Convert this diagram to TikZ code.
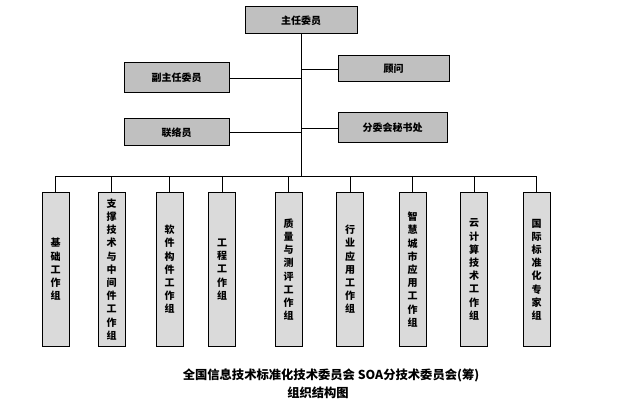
\documentclass[tikz,border=0pt]{standalone}
\usepackage{fontspec}
\newfontfamily\cjk{Noto Sans CJK SC}
\definecolor{topgray}{HTML}{C0C0C0}
\definecolor{grpgray}{HTML}{DADADA}
\begin{document}
\begin{tikzpicture}[x=1pt,y=-1pt,
  topbox/.style={draw, fill=topgray, line width=1pt, inner sep=0pt,
    font=\cjk\bfseries\fontsize{10}{12}\selectfont},
  grpbox/.style={draw, fill=grpgray, line width=1pt, inner sep=0pt,
    minimum width=27pt, minimum height=153pt, align=center,
    font=\cjk\bfseries\fontsize{10}{13.2}\selectfont},
  conn/.style={line width=0.8pt},
  caption/.style={font=\cjk\bfseries\fontsize{12.3}{14}\selectfont, inner sep=0pt}]
\useasboundingbox[fill=white] (0,0) rectangle (632,414);
% top level
\node[topbox, minimum width=112pt, minimum height=27pt] (zr) at (301,20.5) {主任委员};
\node[topbox, minimum width=105pt, minimum height=30pt] (fzr) at (176.5,78) {副主任委员};
\node[topbox, minimum width=111pt, minimum height=26pt] (gw) at (393.5,69) {顾问};
\node[topbox, minimum width=105pt, minimum height=27pt] (lly) at (176.5,132.5) {联络员};
\node[topbox, minimum width=109pt, minimum height=30pt] (msc) at (392.5,128) {分委会秘书处};
\coordinate (bus) at (301,176);
\draw[conn] (zr.south) -- (bus);
\draw[conn] (fzr.east) -- (fzr.east -| bus);
\draw[conn] (gw.west) -- (gw.west -| bus);
\draw[conn] (lly.east) -- (lly.east -| bus);
\draw[conn] (msc.west) -- (msc.west -| bus);
% groups
\node[grpbox] (g1) at (55.5,269.5) {基\\础\\工\\作\\组};
\node[grpbox] (g2) at (111.5,269.5) {支\\撑\\技\\术\\与\\中\\间\\件\\工\\作\\组};
\node[grpbox] (g3) at (169.5,269.5) {软\\件\\构\\件\\工\\作\\组};
\node[grpbox] (g4) at (222,269.5) {工\\程\\工\\作\\组};
\node[grpbox] (g5) at (288.5,269.5) {质\\量\\与\\测\\评\\工\\作\\组};
\node[grpbox] (g6) at (350,269.5) {行\\业\\应\\用\\工\\作\\组};
\node[grpbox] (g7) at (412.5,269.5) {智\\慧\\城\\市\\应\\用\\工\\作\\组};
\node[grpbox] (g8) at (474,269.5) {云\\计\\算\\技\\术\\工\\作\\组};
\node[grpbox] (g9) at (536.5,269.5) {国\\际\\标\\准\\化\\专\\家\\组};
\draw[conn] (g1.north |- bus) -- (g9.north |- bus);
\foreach \g in {g1,g2,g3,g4,g5,g6,g7,g8,g9}
  \draw[conn] (\g.north) -- (\g.north |- bus);
% caption
\node[caption] (cap1) at (331,375) {全国信息技术标准化技术委员会 SOA分技术委员会(筹)};
\node[caption] (cap2) at (318,393) {组织结构图};
\end{tikzpicture}
\end{document}
